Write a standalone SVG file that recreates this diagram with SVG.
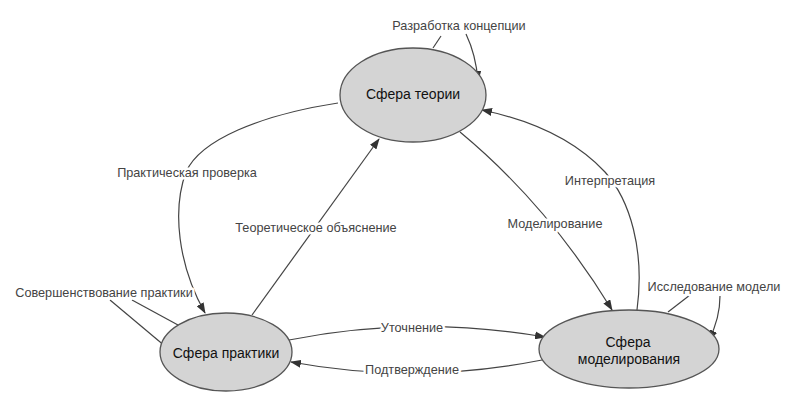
<svg xmlns="http://www.w3.org/2000/svg" width="800" height="410" viewBox="0 0 800 410">
<defs>
<marker id="arr" markerWidth="11" markerHeight="8" refX="10" refY="4" orient="auto" markerUnits="userSpaceOnUse">
<path d="M0,0 L11,4 L0,8 Z" fill="#333"/>
</marker>
<style>
.node{fill:#d4d4d4;stroke:#555;stroke-width:1.3}
.nt{font-family:"Liberation Sans",Arial,sans-serif;font-size:14px;fill:#111;text-anchor:middle}
.c{fill:none;stroke:#444;stroke-width:1.2}
.a{marker-end:url(#arr)}
.lb{font-family:"Liberation Sans",Arial,sans-serif;font-size:12.7px;fill:#444;text-anchor:middle;stroke:#fff;stroke-width:5;stroke-linejoin:round;paint-order:stroke}
</style>
</defs>
<rect width="800" height="410" fill="#fff"/>
<g id="connectors">
<path class="c" d="M433,48 L441,36"/>
<path class="c a" d="M466,34 Q476,55 478,81"/>
<path class="c a" d="M338,103 C260,115 200,140 186,172 C172,210 178,265 205,313"/>
<path class="c a" d="M252,315 L379,139"/>
<path class="c a" d="M460,132 Q548,205 612,310"/>
<path class="c a" d="M637,310 C645,250 630,200 605,172 C575,140 530,120 482,110"/>
<path class="c" d="M668,312 L690,295"/>
<path class="c a" d="M720,296 Q720,318 709,340"/>
<path class="c a" d="M289,340 Q415,315 545,337"/>
<path class="c a" d="M542,360 Q415,385 291,362"/>
<path class="c" d="M178,325 L132,300"/>
<path class="c a" d="M110,300 L172,352"/>
</g>
<g id="labels">
<text class="lb" x="459" y="30">Разработка концепции</text>
<text class="lb" x="187" y="177">Практическая проверка</text>
<text class="lb" x="316" y="232">Теоретическое объяснение</text>
<text class="lb" x="555" y="228">Моделирование</text>
<text class="lb" x="610" y="185">Интерпретация</text>
<text class="lb" x="714" y="291">Исследование модели</text>
<text class="lb" x="104" y="297">Совершенствование практики</text>
<text class="lb" x="412" y="332">Уточнение</text>
<text class="lb" x="412" y="374">Подтверждение</text>
</g>
<g id="theory">
<ellipse class="node" cx="413" cy="95" rx="73" ry="47"/>
<text class="nt" x="413" y="99">Сфера теории</text>
</g>
<g id="practice">
<ellipse class="node" cx="226" cy="352" rx="66" ry="39"/>
<text class="nt" x="226" y="358">Сфера практики</text>
</g>
<g id="modeling">
<ellipse class="node" cx="629" cy="349" rx="90" ry="39"/>
<text class="nt" x="628" y="347">Сфера</text>
<text class="nt" x="629" y="364">моделирования</text>
</g>
</svg>
